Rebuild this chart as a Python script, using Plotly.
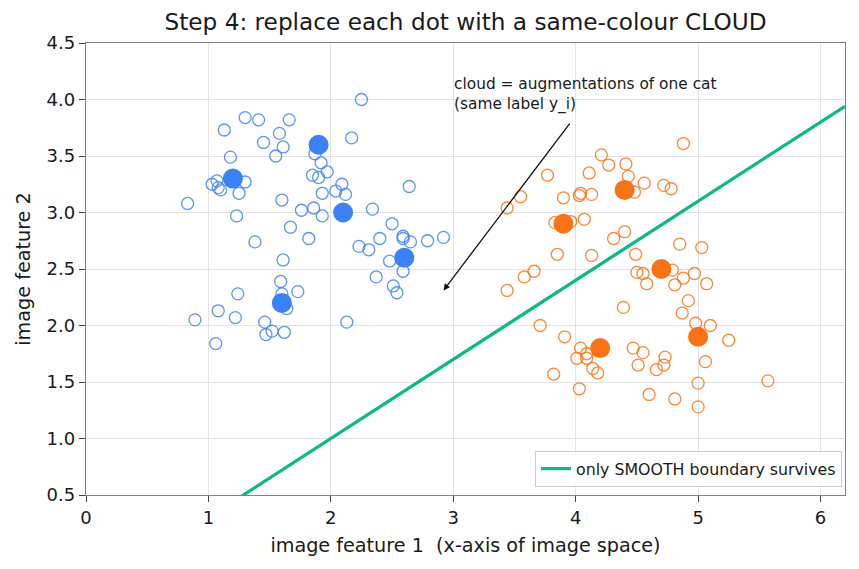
import plotly.graph_objects as go

# Cloud points (augmentations), blue class
blue_cloud_x = [2.25, 1.30, 1.41, 1.66, 1.13, 1.58, 2.17, 1.45, 1.61, 1.55, 1.18, 1.87, 1.92, 1.97, 1.85, 1.90,
                1.07, 1.03, 1.08, 1.10, 1.30, 1.25, 2.09, 2.04, 2.12, 1.93, 2.64, 0.83, 1.60, 1.86, 1.76, 1.93,
                1.23, 2.34, 2.50, 1.67, 1.82, 1.38, 1.61, 2.40, 2.59, 2.59, 2.65, 2.79, 2.92, 2.23, 2.31, 2.48,
                2.59, 2.37, 2.51, 2.54, 1.59, 1.60, 1.73, 1.64, 1.24, 1.08, 1.22, 0.89, 1.46, 1.52, 1.47, 1.62,
                2.13, 1.06]
blue_cloud_y = [4.00, 3.84, 3.82, 3.82, 3.73, 3.70, 3.66, 3.62, 3.58, 3.50, 3.49, 3.52, 3.44, 3.36, 3.33, 3.31,
                3.28, 3.25, 3.22, 3.20, 3.27, 3.17, 3.25, 3.19, 3.16, 3.17, 3.23, 3.08, 3.11, 3.04, 3.02, 2.97,
                2.97, 3.03, 2.90, 2.87, 2.77, 2.74, 2.58, 2.77, 2.79, 2.77, 2.74, 2.75, 2.78, 2.70, 2.67, 2.57,
                2.48, 2.43, 2.35, 2.29, 2.39, 2.28, 2.30, 2.15, 2.28, 2.13, 2.07, 2.05, 2.03, 1.95, 1.92, 1.94,
                2.03, 1.84]

# Cloud points (augmentations), orange class
orange_cloud_x = [4.88, 4.21, 4.27, 4.41, 3.77, 4.11, 4.43, 4.56, 4.72, 4.78, 4.48, 3.55, 3.90, 4.04, 4.03, 4.13,
                  3.44, 3.83, 3.96, 4.07, 4.40, 4.31, 4.85, 5.03, 3.85, 4.13, 4.49, 3.66, 3.58, 4.79, 4.50, 4.55,
                  4.88, 4.97, 4.58, 4.81, 5.07, 3.44, 4.92, 4.87, 4.39, 3.71, 4.98, 5.10, 5.25, 3.91, 4.04, 4.09,
                  4.09, 4.01, 4.47, 4.55, 4.73, 4.72, 4.66, 4.51, 5.06, 4.14, 4.18, 3.82, 5.00, 5.57, 4.03, 4.60,
                  4.81, 5.00]
orange_cloud_y = [3.61, 3.51, 3.42, 3.43, 3.33, 3.35, 3.32, 3.26, 3.24, 3.21, 3.18, 3.14, 3.13, 3.17, 3.15, 3.16,
                  3.04, 2.91, 2.92, 2.94, 2.83, 2.77, 2.72, 2.69, 2.63, 2.62, 2.63, 2.48, 2.43, 2.49, 2.47, 2.46,
                  2.42, 2.46, 2.37, 2.36, 2.37, 2.31, 2.22, 2.11, 2.16, 2.00, 2.02, 2.00, 1.87, 1.90, 1.80, 1.75,
                  1.71, 1.71, 1.80, 1.76, 1.72, 1.65, 1.61, 1.65, 1.68, 1.62, 1.58, 1.57, 1.49, 1.51, 1.44, 1.39,
                  1.35, 1.28]

# Original data points (one per image)
blue_x = [1.2, 1.9, 2.1, 2.6, 1.6]
blue_y = [3.3, 3.6, 3.0, 2.6, 2.2]
orange_x = [3.9, 4.4, 4.7, 5.0, 4.2]
orange_y = [2.9, 3.2, 2.5, 1.9, 1.8]

# Smooth decision boundary endpoints
boundary_x = [0.0, 6.2]
boundary_y = [-0.4, 3.94]

x_ticks = [0, 1, 2, 3, 4, 5, 6]
y_ticks = [0.5, 1.0, 1.5, 2.0, 2.5, 3.0, 3.5, 4.0, 4.5]

BLUE = "#3b82f6"
ORANGE = "#f97316"
GREEN = "#10b981"
FONT = "DejaVu Sans"
TXT = "#1a1a1a"

fig = go.Figure()

fig.add_trace(go.Scatter(
    x=blue_cloud_x, y=blue_cloud_y, mode="markers", showlegend=False,
    marker=dict(symbol="circle-open", size=12, color=BLUE, opacity=0.85, line=dict(width=1.3, color=BLUE)),
))
fig.add_trace(go.Scatter(
    x=orange_cloud_x, y=orange_cloud_y, mode="markers", showlegend=False,
    marker=dict(symbol="circle-open", size=12, color=ORANGE, opacity=0.85, line=dict(width=1.3, color=ORANGE)),
))
fig.add_trace(go.Scatter(
    x=boundary_x, y=boundary_y, mode="lines", name="only SMOOTH boundary survives",
    line=dict(color=GREEN, width=3.3),
))
fig.add_trace(go.Scatter(
    x=blue_x, y=blue_y, mode="markers", showlegend=False,
    marker=dict(symbol="circle", size=20, color=BLUE, line=dict(width=0)),
))
fig.add_trace(go.Scatter(
    x=orange_x, y=orange_y, mode="markers", showlegend=False,
    marker=dict(symbol="circle", size=20, color=ORANGE, line=dict(width=0)),
))

# arrow
fig.add_annotation(
    x=2.92, y=2.31, ax=3.96, ay=3.80, xref="x", yref="y", axref="x", ayref="y",
    text="", showarrow=True, arrowhead=2, arrowsize=1.0, arrowwidth=1.3, arrowcolor="#111111",
    standoff=0, startstandoff=0,
)
fig.add_annotation(
    x=2.99, y=3.85, xref="x", yref="y", xanchor="left", yanchor="bottom",
    text="cloud = augmentations of one cat<br>(same label y_i)", showarrow=False, align="left",
    font=dict(family=FONT, size=15.4, color=TXT),
)

axis_common = dict(
    showgrid=True, gridcolor="#e3e3e3", gridwidth=1,
    showline=True, linecolor="#808080", linewidth=1.3, mirror=True,
    ticks="outside", ticklen=6, tickwidth=1.3, tickcolor="#444444",
    tickfont=dict(family=FONT, size=18, color=TXT),
    zeroline=False,
)

fig.update_layout(
    width=859, height=569,
    margin=dict(l=86, r=14, t=43, b=74),
    paper_bgcolor="white", plot_bgcolor="white",
    font=dict(family=FONT, color=TXT),
    title=dict(text="Step 4: replace each dot with a same-colour CLOUD", x=0.5, xref="paper", xanchor="center",
               y=1 - 22 / 569, yanchor="middle", font=dict(family=FONT, size=23.2, color=TXT)),
    xaxis=dict(range=[0, 6.2], tickvals=x_ticks, ticktext=[str(v) for v in x_ticks],
               title=dict(text="image feature 1  (x-axis of image space)", font=dict(family=FONT, size=19.2), standoff=11),
               **axis_common),
    yaxis=dict(range=[0.5, 4.5], tickvals=y_ticks, ticktext=[f"{v:.1f}" for v in y_ticks],
               title=dict(text="image feature 2", font=dict(family=FONT, size=19.2), standoff=10),
               **axis_common),
    legend=dict(x=0.996, y=0.018, xanchor="right", yanchor="bottom", bgcolor="rgba(255,255,255,0.9)",
                bordercolor="#cccccc", borderwidth=1, font=dict(family=FONT, size=15.8, color=TXT)),
)

fig.write_html("out.html")
